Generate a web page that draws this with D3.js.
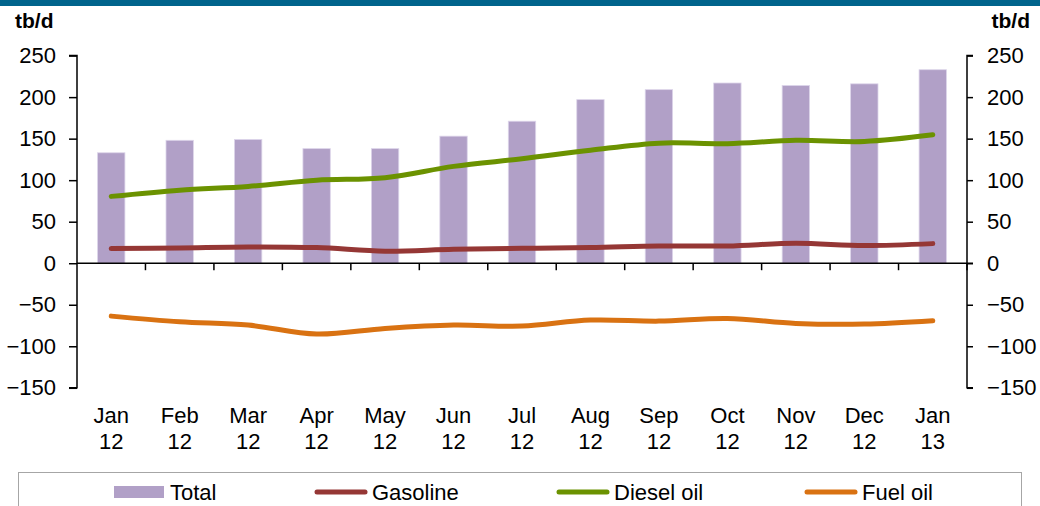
<!DOCTYPE html>
<html>
<head>
<meta charset="utf-8">
<script src="https://cdn.jsdelivr.net/npm/d3@7"></script>
<style>
  html, body { margin: 0; padding: 0; background: #fff; }
  svg { display: block; font-family: "Liberation Sans", Arial, sans-serif; }
</style>
</head>
<body>
<svg id="chart" width="1040" height="506"></svg>
<script>
const months = ["Jan", "Feb", "Mar", "Apr", "May", "Jun", "Jul", "Aug", "Sep", "Oct", "Nov", "Dec", "Jan"];
const years  = ["12", "12", "12", "12", "12", "12", "12", "12", "12", "12", "12", "12", "13"];
const total    = [133, 148, 149, 138, 138, 153, 171, 197, 209, 217, 214, 216, 233];
const gasoline = [17.6, 18.4, 19.6, 18.8, 14.4, 16.8, 18, 18.8, 20.8, 20.8, 24, 21.2, 23.6];
const diesel   = [80.5, 88, 92.5, 100, 103, 116.6, 125.8, 136, 144.6, 144, 148, 146.6, 154.6];
const fuelOil  = [-63.7, -70.5, -74.5, -85.3, -78.5, -74.5, -75.7, -68.5, -69.7, -66.5, -72.5, -73.3, -69.3];
const yTicks = [250, 200, 150, 100, 50, 0, -50, -100, -150];
const seriesNames = ["Total", "Gasoline", "Diesel oil", "Fuel oil"];
const colors = { total: "#b1a0c7", gasoline: "#953735", diesel: "#6b9200", fuel: "#d97212" };

const svg = d3.select("#chart");
const left = 77, right = 967;
const idx = months.map((m, i) => i);

const x = d3.scaleBand().domain(idx).range([left, right]).paddingInner(0.6).paddingOuter(0.3);
const xb = d3.scaleBand().domain(idx).range([left, right]);
const y = d3.scaleLinear().domain([-150, 250]).range([387.8, 55.6]);

// top title band
svg.append("rect").attr("x", 0).attr("y", 0).attr("width", 1040).attr("height", 6).attr("fill", "#00648c");

// bars
svg.append("g").selectAll("rect").data(total).join("rect")
  .attr("x", (d, i) => x(i))
  .attr("width", x.bandwidth())
  .attr("y", d => y(d))
  .attr("height", d => y(0) - y(d))
  .attr("fill", colors.total)
  .attr("stroke", "#ddd5ea").attr("stroke-width", 0.8);

// axes
const fontSize = 22;
const yl = svg.append("g").attr("transform", `translate(${left},0)`)
  .call(d3.axisLeft(y).tickValues(yTicks).tickSize(8).tickPadding(13).tickFormat(d3.format("d")));
const yr = svg.append("g").attr("transform", `translate(${right},0)`)
  .call(d3.axisRight(y).tickValues(yTicks).tickSize(6).tickPadding(14).tickFormat(d3.format("d")));
[yl, yr].forEach(g => {
  g.select(".domain").attr("stroke", "#000").attr("stroke-width", 1.5);
  g.selectAll(".tick line").attr("stroke", "#000").attr("stroke-width", 1.5);
  g.selectAll(".tick text").attr("font-size", fontSize).attr("fill", "#000")
    .attr("font-family", "Liberation Sans, Arial, sans-serif");
});
yr.select(".domain").attr("d", `M6,${y(250)}H0V${y(-150)}H6`);
yl.select(".domain").attr("d", `M-8,${y(250)}H0V${y(-150)}H-8`);

// x axis at zero
const xa = svg.append("g").attr("transform", `translate(0,${y(0)})`);
xa.append("line").attr("x1", left).attr("x2", right + 6).attr("stroke", "#000").attr("stroke-width", 1.5);
xa.selectAll("line.tk").data(idx.slice(1).concat([13])).join("line").attr("class", "tk")
  .attr("x1", i => i < 13 ? xb(i) : right).attr("x2", i => i < 13 ? xb(i) : right)
  .attr("y1", 0).attr("y2", 7).attr("stroke", "#000").attr("stroke-width", 1.5);

// x labels
const xl = svg.append("g");
xl.selectAll("text.m").data(months).join("text").attr("class", "m")
  .attr("x", (d, i) => xb(i) + xb.bandwidth() / 2).attr("y", 423)
  .attr("text-anchor", "middle").attr("font-size", fontSize).text(d => d);
xl.selectAll("text.yy").data(years).join("text").attr("class", "yy")
  .attr("x", (d, i) => xb(i) + xb.bandwidth() / 2).attr("y", 449)
  .attr("text-anchor", "middle").attr("font-size", fontSize).text(d => d);

// lines
const line = d3.line().x((d, i) => xb(i) + xb.bandwidth() / 2).y(d => y(d)).curve(d3.curveCatmullRom.alpha(0.5));
[[gasoline, colors.gasoline], [diesel, colors.diesel], [fuelOil, colors.fuel]].forEach(([data, c]) => {
  svg.append("path").datum(data).attr("d", line).attr("fill", "none")
    .attr("stroke", c).attr("stroke-width", 5).attr("stroke-linecap", "round").attr("stroke-linejoin", "round");
});

// unit labels
svg.append("text").attr("x", 15).attr("y", 28).attr("font-size", 21).attr("font-weight", "bold").text("tb/d");
svg.append("text").attr("x", 1030).attr("y", 28).attr("text-anchor", "end").attr("font-size", 21).attr("font-weight", "bold").text("tb/d");

// legend
svg.append("rect").attr("x", 18.5).attr("y", 472.5).attr("width", 1003).attr("height", 60)
  .attr("fill", "#fff").attr("stroke", "#a6a6a6").attr("stroke-width", 1);
const lg = svg.append("g");
const legX = [114, 314, 556, 804];
const legKeys = ["total", "gasoline", "diesel", "fuel"];
seriesNames.forEach((name, i) => {
  const x0 = legX[i];
  if (i === 0) {
    lg.append("rect").attr("x", x0).attr("y", 486).attr("width", 50).attr("height", 12).attr("fill", colors.total);
  } else {
    lg.append("line").attr("x1", x0 + 3).attr("x2", x0 + 51).attr("y1", 492).attr("y2", 492)
      .attr("stroke", colors[legKeys[i]]).attr("stroke-width", 5).attr("stroke-linecap", "round");
  }
  lg.append("text").attr("x", x0 + (i === 0 ? 56 : 58)).attr("y", 500).attr("font-size", fontSize).text(name);
});
</script>
</body>
</html>
